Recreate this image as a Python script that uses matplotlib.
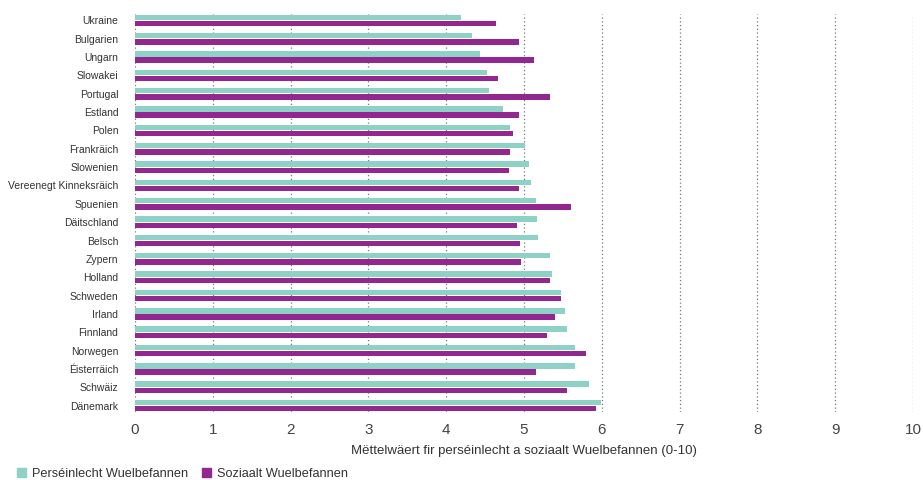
import matplotlib
matplotlib.use("Agg")
import matplotlib.pyplot as plt
import numpy as np
from matplotlib.patches import Patch

countries = ["Ukraine", "Bulgarien", "Ungarn", "Slowakei", "Portugal", "Estland", "Polen",
             "Frankräich", "Slowenien", "Vereenegt Kinneksräich", "Spuenien", "Däitschland",
             "Belsch", "Zypern", "Holland", "Schweden", "Irland", "Finnland", "Norwegen",
             "Éisterräich", "Schwäiz", "Dänemark"]
personal = [4.19, 4.33, 4.43, 4.53, 4.55, 4.73, 4.82,
            5.01, 5.07, 5.09, 5.15, 5.17, 5.18, 5.33, 5.36,
            5.48, 5.53, 5.55, 5.65, 5.65, 5.83, 5.99]
social = [4.64, 4.94, 5.13, 4.67, 5.34, 4.93, 4.86,
          4.82, 4.81, 4.93, 5.61, 4.91, 4.95, 4.96, 5.33,
          5.47, 5.40, 5.29, 5.80, 5.16, 5.55, 5.92]
xticks = list(range(0, 11))

teal = "#8ED1C6"
purple = "#92278F"

plt.rcParams['font.family'] = ['Liberation Sans', 'DejaVu Sans']

fig = plt.figure(figsize=(9.23, 4.8), dpi=100)
ax = fig.add_axes([135/923, 1-412/480, (913-135)/923, (412-14)/480])

y = np.arange(len(countries))
h = 0.3
ax.barh(y - h/2 - 0.02, personal, height=h, color=teal, zorder=3)
ax.barh(y + h/2 + 0.02, social, height=h, color=purple, zorder=3)

ax.set_ylim(len(countries) - 1 + 0.35, -0.35)
ax.set_xlim(0, 10)
ax.set_xticks(xticks)
ax.set_xticklabels([str(t) for t in xticks], fontsize=11, color="#444444")
ax.set_yticks(y)
ax.set_yticklabels(countries, fontsize=7.5, color="#333333")
ax.tick_params(axis='both', length=0)
ax.tick_params(axis='x', pad=8)
ax.tick_params(axis='y', pad=12)
for s in ax.spines.values():
    s.set_visible(False)
ax.grid(axis='x', linestyle=(0, (1, 2)), color="#777777", linewidth=0.9, zorder=0)
ax.set_xlabel("Mëttelwäert fir perséinlecht a soziaalt Wuelbefannen (0-10)", fontsize=9.5,
              color="#333333", labelpad=6)

handles = [Patch(color=teal, label="Perséinlecht Wuelbefannen"),
           Patch(color=purple, label="Soziaalt Wuelbefannen")]
fig.legend(handles=handles, loc="center left", bbox_to_anchor=(0.013, 6/480), ncol=2,
           frameon=False, fontsize=9.2, handlelength=0.7, handleheight=0.7,
           handletextpad=0.45, columnspacing=1.1, labelcolor="#333333", borderaxespad=0)

fig.savefig("out.png", dpi=100)
